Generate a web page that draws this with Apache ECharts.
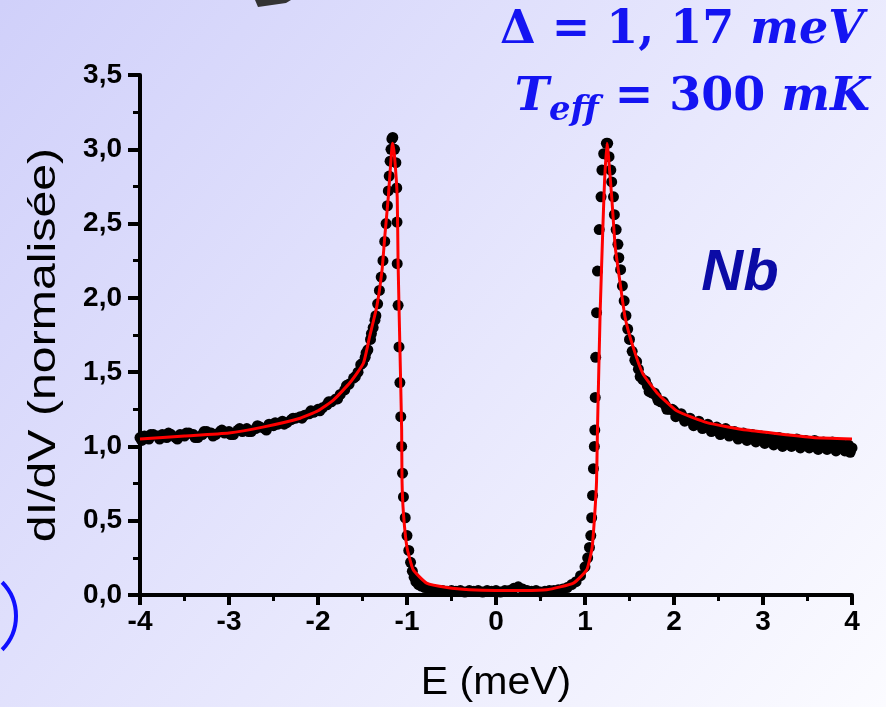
<!DOCTYPE html>
<html>
<head>
<meta charset="utf-8">
<script src="https://cdn.jsdelivr.net/npm/echarts@6/dist/echarts.min.js"></script>
<style>
html,body{margin:0;padding:0;width:886px;height:707px;overflow:hidden;}
#c{width:886px;height:707px;}
</style>
</head>
<body>
<div id="c"></div>
<script>
// ---- data ----
const xTicks = [-4, -3, -2, -1, 0, 1, 2, 3, 4];
const yTicks = ['0,0', '0,5', '1,0', '1,5', '2,0', '2,5', '3,0', '3,5'];

// measured points: [E (meV), dI/dV]
const measuredLeft = [
  [-4.00,1.06],[-3.95,1.07],[-3.90,1.05],[-3.85,1.08],[-3.80,1.07],[-3.75,1.08],[-3.70,1.06],[-3.65,1.08],
  [-3.60,1.06],[-3.55,1.08],[-3.50,1.07],[-3.45,1.09],[-3.40,1.08],[-3.35,1.06],[-3.30,1.08],[-3.25,1.10],
  [-3.20,1.09],[-3.15,1.08],[-3.10,1.10],[-3.05,1.09],[-3.00,1.10],[-2.95,1.08],[-2.90,1.11],[-2.85,1.10],
  [-2.80,1.12],[-2.75,1.10],[-2.70,1.12],[-2.65,1.13],[-2.60,1.12],[-2.55,1.15],[-2.50,1.14],[-2.45,1.15],
  [-2.40,1.17],[-2.35,1.16],[-2.30,1.18],[-2.25,1.19],[-2.20,1.20],[-2.15,1.21],[-2.10,1.22],[-2.05,1.23],
  [-2.00,1.25],[-1.95,1.26],[-1.90,1.28],[-1.85,1.30],[-1.80,1.32],[-1.75,1.35],[-1.70,1.38],[-1.65,1.42],
  [-1.60,1.46],[-1.55,1.50],[-1.50,1.56],[-1.47,1.60],[-1.44,1.65],[-1.41,1.72],[-1.38,1.80],[-1.35,1.88],
  [-1.33,1.96],[-1.31,2.05],[-1.29,2.14],[-1.27,2.25],[-1.25,2.38],[-1.235,2.50],[-1.22,2.62],[-1.21,2.72],
  [-1.20,2.82],[-1.19,2.92],[-1.18,3.00],[-1.17,3.07],[-1.16,3.08]
];
const measuredLeftNoise = [
  [-3.98,1.04],[-3.88,1.08],[-3.78,1.05],[-3.68,1.09],[-3.58,1.05],[-3.48,1.09],[-3.38,1.06],[-3.28,1.10],
  [-3.18,1.07],[-3.08,1.11],[-2.98,1.08],[-2.88,1.12],[-2.78,1.10],[-2.68,1.14],[-2.58,1.11],[-2.48,1.16],
  [-2.38,1.15],[-2.28,1.19],[-2.18,1.19],[-2.08,1.24],[-1.98,1.24],[-1.88,1.30],[-1.78,1.32],[-1.68,1.41],
  [-1.58,1.47],[-1.52,1.55],[-1.46,1.63],[-1.40,1.76],[-1.36,1.85]
];
const measuredGap = [
  [-1.14,3.00],[-1.125,2.91],[-1.115,2.74],[-1.112,2.51],[-1.11,2.23],[-1.10,1.95],[-1.09,1.67],[-1.08,1.43],
  [-1.07,1.20],[-1.06,1.00],[-1.05,0.82],[-1.04,0.66],[-1.02,0.52],[-1.00,0.40],[-0.98,0.30],[-0.96,0.22],
  [-0.94,0.16],[-0.92,0.12],[-0.90,0.09],[-0.87,0.07],[-0.84,0.06],[-0.80,0.05],[-0.75,0.04],[-0.70,0.035],
  [-0.65,0.03],[-0.60,0.03],[-0.55,0.025],[-0.50,0.03],[-0.45,0.025],[-0.40,0.03],[-0.35,0.02],[-0.30,0.03],
  [-0.25,0.025],[-0.20,0.03],[-0.15,0.02],[-0.10,0.03],[-0.05,0.025],[0.00,0.03],[0.05,0.02],[0.10,0.03],
  [0.15,0.03],[0.20,0.045],[0.25,0.055],[0.30,0.04],[0.35,0.03],[0.40,0.025],[0.45,0.03],[0.50,0.02],
  [0.55,0.025],[0.60,0.03],[0.65,0.03],[0.70,0.035],[0.75,0.04],[0.80,0.05],[0.85,0.07],[0.90,0.09],
  [0.95,0.13],[1.00,0.19],[1.03,0.25],[1.05,0.32],[1.065,0.40],[1.075,0.52],[1.085,0.67],[1.095,0.85],
  [1.105,1.00],[1.11,1.11],[1.115,1.33],[1.12,1.60],[1.13,1.90],[1.14,2.18],[1.16,2.46],[1.18,2.68],
  [1.19,2.86],[1.21,2.97],[1.24,3.04],[1.255,3.04]
];
const measuredRight = [
  [1.27,2.95],[1.29,2.86],[1.30,2.78],[1.32,2.68],[1.33,2.56],[1.35,2.46],[1.37,2.36],[1.38,2.27],
  [1.40,2.19],[1.42,2.08],[1.44,1.98],[1.46,1.88],[1.48,1.79],[1.50,1.72],[1.53,1.64],[1.56,1.58],
  [1.60,1.52],[1.65,1.45],[1.70,1.41],[1.75,1.36],[1.80,1.34],[1.85,1.30],[1.90,1.28],[1.95,1.25],
  [2.00,1.24],[2.05,1.21],[2.10,1.20],[2.15,1.18],[2.20,1.17],[2.25,1.15],[2.30,1.15],[2.35,1.13],
  [2.40,1.13],[2.45,1.11],[2.50,1.11],[2.55,1.10],[2.60,1.09],[2.65,1.09],[2.70,1.07],[2.75,1.08],
  [2.80,1.06],[2.85,1.06],[2.90,1.05],[2.95,1.05],[3.00,1.04],[3.05,1.05],[3.10,1.03],[3.15,1.04],
  [3.20,1.03],[3.25,1.02],[3.30,1.03],[3.35,1.02],[3.40,1.03],[3.45,1.01],[3.50,1.02],[3.55,1.01],
  [3.60,1.02],[3.65,1.00],[3.70,1.01],[3.75,1.00],[3.80,1.01],[3.85,0.99],[3.90,1.00],[3.95,0.98],
  [4.00,0.99]
];
const measuredRightNoise = [
  [1.62,1.47],[1.72,1.37],[1.82,1.31],[1.92,1.25],[2.02,1.20],[2.12,1.17],[2.22,1.14],[2.32,1.12],
  [2.42,1.10],[2.52,1.08],[2.62,1.07],[2.72,1.05],[2.82,1.04],[2.92,1.03],[3.02,1.02],[3.12,1.01],
  [3.22,1.00],[3.32,1.00],[3.42,0.99],[3.52,0.99],[3.62,0.98],[3.72,0.98],[3.82,0.97],[3.92,0.97],[3.98,0.96],
  [1.58,1.57],[1.68,1.44],[1.78,1.36],[1.88,1.30],[1.98,1.25],[2.08,1.22],[2.18,1.19],[2.28,1.17],
  [2.38,1.15],[2.48,1.13],[2.58,1.12],[2.68,1.10],[2.78,1.09],[2.88,1.08],[2.98,1.07],[3.08,1.06],
  [3.18,1.06],[3.28,1.05],[3.38,1.05],[3.48,1.04],[3.58,1.04],[3.68,1.03],[3.78,1.03],[3.88,1.02],[3.96,1.01]
];
// BCS fit (red curve)
const fitCurve = [
  [-4.00,1.05],[-3.50,1.07],[-3.00,1.09],[-2.62,1.13],[-2.20,1.19],[-2.00,1.24],[-1.83,1.31],[-1.64,1.43],
  [-1.49,1.56],[-1.42,1.74],[-1.34,1.94],[-1.28,2.19],[-1.25,2.41],[-1.21,2.68],[-1.17,3.01],[-1.16,3.04],
  [-1.14,2.95],[-1.11,2.68],[-1.10,2.23],[-1.08,1.67],[-1.06,1.11],[-1.056,0.77],[-1.04,0.55],[-1.00,0.32],
  [-0.93,0.17],[-0.78,0.08],[-0.55,0.05],[-0.30,0.035],[0.00,0.03],[0.30,0.03],[0.57,0.035],[0.87,0.08],
  [1.02,0.17],[1.08,0.32],[1.11,0.55],[1.13,0.77],[1.14,1.11],[1.17,1.90],[1.20,2.46],[1.22,2.79],
  [1.247,3.04],[1.26,2.98],[1.30,2.68],[1.34,2.34],[1.39,2.12],[1.45,1.87],[1.54,1.67],[1.65,1.49],
  [1.81,1.36],[2.03,1.24],[2.37,1.16],[2.82,1.11],[3.56,1.06],[4.00,1.05]
];

const measured = measuredLeft.concat(measuredLeftNoise, measuredGap, measuredRight, measuredRightNoise);

const chart = echarts.init(document.getElementById('c'), null, {renderer: 'canvas'});
const font = '"Liberation Sans", Arial, sans-serif';
const blue = '#1414f2';

chart.setOption({
  animation: false,
  backgroundColor: 'transparent',
  grid: {left: 140, right: 34, top: 75, bottom: 112, containLabel: false},
  xAxis: {
    type: 'value', min: -4, max: 4, interval: 1,
    axisLine: {show: true, onZero: false, lineStyle: {color: '#000', width: 4}},
    axisTick: {show: true, inside: false, length: 10, lineStyle: {color: '#000', width: 4}},
    minorTick: {show: true, splitNumber: 2, length: 6, lineStyle: {color: '#000', width: 3}},
    splitLine: {show: false},
    axisLabel: {color: '#000', fontSize: 28, fontWeight: 'bold', fontFamily: font, margin: 13,
      formatter: v => { const i = xTicks.indexOf(Math.round(v)); return i >= 0 ? String(xTicks[i]) : ''; }}
  },
  yAxis: {
    type: 'value', min: 0, max: 3.5, interval: 0.5,
    axisLine: {show: true, onZero: false, lineStyle: {color: '#000', width: 4}},
    axisTick: {show: true, inside: false, length: 12, lineStyle: {color: '#000', width: 4}},
    minorTick: {show: true, splitNumber: 2, length: 7, lineStyle: {color: '#000', width: 3}},
    splitLine: {show: false},
    axisLabel: {color: '#000', fontSize: 28, fontWeight: 'bold', fontFamily: font, margin: 18,
      formatter: v => yTicks[Math.round(v * 2)] || ''}
  },
  series: [
    {type: 'scatter', data: measured, symbol: 'circle', symbolSize: 11,
      itemStyle: {color: '#000', opacity: 1}, z: 2},
    {type: 'line', data: fitCurve, showSymbol: false, smooth: 0.15,
      lineStyle: {color: '#ff0000', width: 3}, z: 3}
  ],
  graphic: [
    {type: 'rect', z: -100, silent: true, shape: {x: 0, y: 0, width: 886, height: 707},
      style: {fill: new echarts.graphic.LinearGradient(0, 0, 1, 1, [
        {offset: 0, color: '#d0d0fa'}, {offset: 0.55, color: '#e8e8fd'}, {offset: 1, color: '#fbfbff'}])}},
    {type: 'polygon', z: 10, shape: {points: [[255,0],[291,0],[286,3],[258,7]]}, style: {fill: '#333333'}},
    {type: 'arc', z: 10, shape: {cx: -32, cy: 616, r: 48, startAngle: -0.78, endAngle: 0.78},
      style: {stroke: '#1010ff', lineWidth: 4, fill: 'none'}},
    {type: 'text', z: 10, x: 496, y: 684, scaleX: 1.08,
      style: {text: 'E (meV)', font: '38px ' + font, fill: '#000', align: 'center', verticalAlign: 'middle'}},
    {type: 'text', z: 10, x: 45, y: 345, rotation: Math.PI / 2, scaleX: 1.27,
      style: {text: 'dI/dV (normalisée)', font: '38px ' + font, fill: '#000', align: 'center', verticalAlign: 'middle'}},
    {type: 'text', z: 10, x: 740, y: 274,
      style: {text: 'Nb', font: 'italic bold 58px ' + font, fill: '#0b0ba6', align: 'center', verticalAlign: 'middle'}},
    {type: 'text', z: 10, x: 864, y: 31,
      style: {text: '{n|Δ = 1, 17 }{i|meV}', align: 'right', verticalAlign: 'middle', fill: blue,
        rich: {
          n: {font: 'bold 46px "DejaVu Serif", serif', fill: blue},
          i: {font: 'italic bold 46px "DejaVu Serif", serif', fill: blue}
        }}},
    {type: 'text', z: 10, x: 870, y: 98,
      style: {text: '{i|T}{s|eff}{n| = 300 }{i|mK}', align: 'right', verticalAlign: 'middle', fill: blue,
        rich: {
          n: {font: 'bold 46px "DejaVu Serif", serif', fill: blue},
          i: {font: 'italic bold 46px "DejaVu Serif", serif', fill: blue},
          s: {font: 'italic bold 34px "DejaVu Serif", serif', fill: blue, padding: [26, 0, 0, 0]}
        }}}
  ]
});
</script>
</body>
</html>
